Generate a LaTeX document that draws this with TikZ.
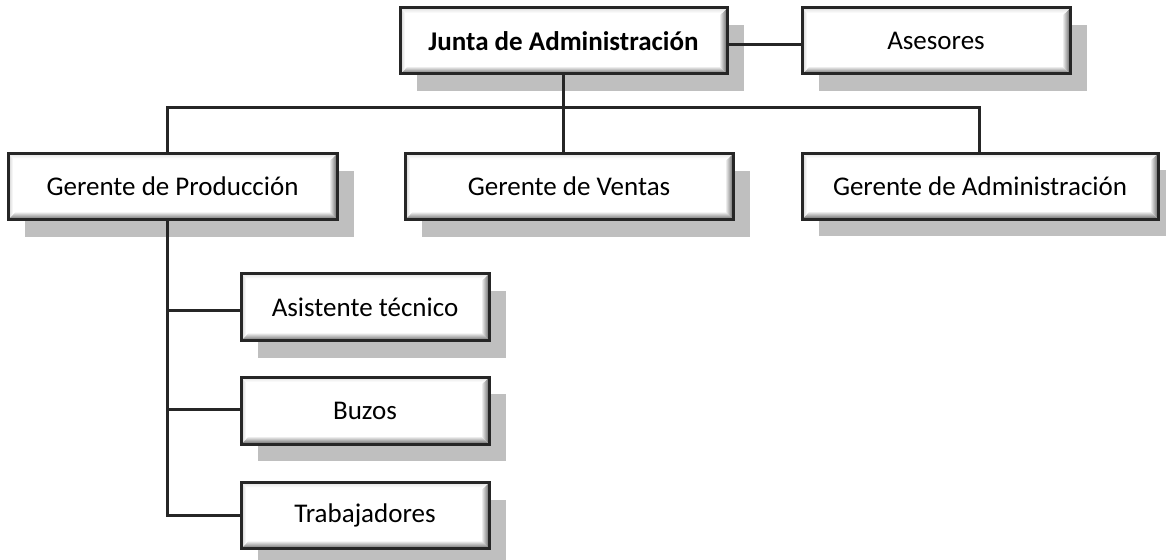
\documentclass[tikz,border=0pt]{standalone}
\usepackage{fontspec}
\setmainfont{Carlito}
\usetikzlibrary{shadows}
\tikzset{
  bevel/.style={path picture={
    \coordinate (SW) at (path picture bounding box.south west);
    \coordinate (NE) at (path picture bounding box.north east);
    \coordinate (SE) at (path picture bounding box.south east);
    \coordinate (NW) at (path picture bounding box.north west);
    \shade[top color=white, bottom color=black!60] (SW) -- (SE) -- ([xshift=-8pt,yshift=8pt]SE) -- ([xshift=8pt,yshift=8pt]SW) -- cycle;
    \shade[left color=white, right color=black!60] (SE) -- (NE) -- ([xshift=-8pt,yshift=-8pt]NE) -- ([xshift=-8pt,yshift=8pt]SE) -- cycle;
    \shade[left color=black!20, right color=white] (SW) -- (NW) -- ([xshift=5pt,yshift=-5pt]NW) -- ([xshift=5pt,yshift=5pt]SW) -- cycle;
    \shade[top color=black!12, bottom color=white] (NW) -- (NE) -- ([xshift=-5pt,yshift=-5pt]NE) -- ([xshift=5pt,yshift=-5pt]NW) -- cycle;
  }},
  orgbox/.style={draw=black!85, line width=3pt, fill=white, inner sep=0pt,
    minimum height=66pt, bevel,
    font=\fontsize{27}{32}\selectfont,
    drop shadow={shadow xshift=17pt, shadow yshift=-17pt, opacity=1, fill=black!25, draw=none}},
  link/.style={draw=black!85, line width=3pt}
}
\begin{document}
\begin{tikzpicture}[x=1pt,y=-1pt]
\useasboundingbox (0,0) rectangle (1166,559);
\node[orgbox, minimum width=327pt, font=\fontsize{27}{32}\selectfont\bfseries] (jd) at (563.5,41) {Junta de Administración};
\node[orgbox, minimum width=268pt] (ase) at (936,41) {Asesores};
\node[orgbox, minimum width=329pt] (gp) at (172.5,186.5) {Gerente de Producción};
\node[orgbox, minimum width=328pt] (gv) at (569,186.5) {Gerente de Ventas};
\node[orgbox, minimum width=356pt] (ga) at (980,186) {Gerente de Administración};
\node[orgbox, minimum width=248pt, minimum height=67pt] (at) at (365,307) {Asistente técnico};
\node[orgbox, minimum width=248pt, minimum height=67pt] (bz) at (365,410.5) {Buzos};
\node[orgbox, minimum width=248pt, minimum height=66pt] (tr) at (365,515.5) {Trabajadores};
\coordinate (bus) at (563,108);
\coordinate (pl) at (167,108);
\coordinate (al) at (979,108);
\draw[link] (jd.east |- 0,45) -- (ase.west |- 0,45);
\draw[link] (jd.south -| bus) -- (bus);
\draw[link] (gp.north -| pl) -- (pl) -- (al) -- (al |- ga.north);
\draw[link] (gv.north -| bus) -- (bus);
\draw[link] (gp.south -| pl) -- (pl |- 0,515) -- (tr.west |- 0,515);
\draw[link] (pl |- 0,310) -- (at.west |- 0,310);
\draw[link] (pl |- 0,409) -- (bz.west |- 0,409);
\end{tikzpicture}
\end{document}
